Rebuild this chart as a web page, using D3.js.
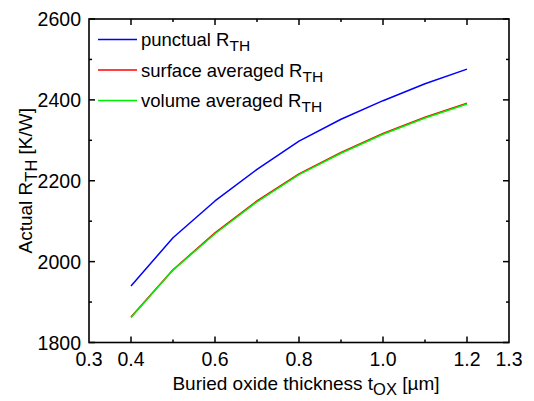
<!DOCTYPE html>
<html>
<head>
<meta charset="utf-8">
<script src="https://cdn.jsdelivr.net/npm/d3@7"></script>
<style>
  body { margin: 0; background: white; }
  text { font-family: "Liberation Sans", Arial, sans-serif; fill: black; }
</style>
</head>
<body>
<svg id="chart" width="534" height="401"></svg>
<script>
// buried oxide thickness (um)
var tox = [0.4, 0.5, 0.6, 0.7, 0.8, 0.9, 1.0, 1.1, 1.2];

// R_TH values (K/W)
var punctual = [1940, 2059, 2150, 2228, 2298, 2352, 2398, 2440, 2476];
var surfaceAvg = [1863, 1980, 2071, 2150, 2217, 2270, 2317, 2357, 2392];
var volumeAvg = [1862, 1979, 2069, 2148, 2215, 2268, 2315, 2355, 2390];

var seriesNames = ["punctual", "surface averaged", "volume averaged"];
var seriesColors = ["#0000ff", "#ff0000", "#00ee00"];

var xTickLabels = [0.3, 0.4, 0.6, 0.8, 1.0, 1.2, 1.3];
var xMajor = [0.4, 0.6, 0.8, 1.0, 1.2];
var xMinor = [0.5, 0.7, 0.9, 1.1];
var yMajor = [1800, 2000, 2200, 2400, 2600];
var yMinor = [1900, 2100, 2300, 2500];

const margin = {left: 89, right: 25, top: 19, bottom: 58.5};
const width = 534;
const height = 401;
const innerW = width - margin.left - margin.right;
const innerH = height - margin.top - margin.bottom;

var svg = d3.select('#chart');

var x = d3.scaleLinear()
  .domain([0.3, 1.3])
  .range([margin.left, margin.left + innerW]);

var y = d3.scaleLinear()
  .domain([1800, 2600])
  .range([margin.top + innerH, margin.top]);

var series = [punctual, surfaceAvg, volumeAvg].map((vals, i) => {
  return {name: seriesNames[i], color: seriesColors[i], points: tox.map((t, j) => ({t: t, v: vals[j]}))};
});

// frame
svg.append('rect')
  .attr('x', margin.left)
  .attr('y', margin.top)
  .attr('width', innerW)
  .attr('height', innerH)
  .attr('fill', 'none')
  .attr('stroke', 'black')
  .attr('stroke-width', 1.6);

// ticks, pointing inward on all four sides
function addTicks(vals, len, horiz) {
  vals.forEach(v => {
    if (horiz) {
      svg.append('line').attr('x1', x(v)).attr('x2', x(v))
        .attr('y1', margin.top + innerH).attr('y2', margin.top + innerH - len)
        .attr('stroke', 'black').attr('stroke-width', 1.5);
      svg.append('line').attr('x1', x(v)).attr('x2', x(v))
        .attr('y1', margin.top).attr('y2', margin.top + len)
        .attr('stroke', 'black').attr('stroke-width', 1.5);
    } else {
      svg.append('line').attr('y1', y(v)).attr('y2', y(v))
        .attr('x1', margin.left).attr('x2', margin.left + len)
        .attr('stroke', 'black').attr('stroke-width', 1.5);
      svg.append('line').attr('y1', y(v)).attr('y2', y(v))
        .attr('x1', margin.left + innerW).attr('x2', margin.left + innerW - len)
        .attr('stroke', 'black').attr('stroke-width', 1.5);
    }
  });
}
addTicks(xMajor, 6, true);
addTicks(xMinor, 3, true);
addTicks(yMajor, 6, false);
addTicks(yMinor, 3, false);

// tick labels
svg.selectAll('.xlabel')
  .data(xTickLabels)
  .enter().append('text')
    .attr('class', 'xlabel')
    .attr('x', d => x(d))
    .attr('y', margin.top + innerH + 23)
    .attr('text-anchor', 'middle')
    .attr('font-size', 19.5)
    .text(d => d3.format('.1f')(d));

svg.selectAll('.ylabel')
  .data(yMajor)
  .enter().append('text')
    .attr('class', 'ylabel')
    .attr('x', margin.left - 8)
    .attr('y', d => y(d) + 7)
    .attr('text-anchor', 'end')
    .attr('font-size', 19.5)
    .text(d => d);

// axis titles
var xt = svg.append('text')
  .attr('x', 306)
  .attr('y', 390)
  .attr('text-anchor', 'middle')
  .attr('font-size', 19);
xt.append('tspan').text('Buried oxide thickness t');
xt.append('tspan').attr('dy', 5).attr('font-size', 16.5).text('OX');
xt.append('tspan').attr('dy', -5).text(' [\u00b5m]');

var yt = svg.append('text')
  .attr('transform', `translate(32, ${y(2200)}) rotate(-90)`)
  .attr('text-anchor', 'middle')
  .attr('font-size', 19);
yt.append('tspan').text('Actual R');
yt.append('tspan').attr('dy', 5).attr('font-size', 16.5).text('TH');
yt.append('tspan').attr('dy', -5).text(' [K/W]');

// lines
var line = d3.line()
  .x(d => x(d.t))
  .y(d => y(d.v));

svg.selectAll('.series')
  .data(series)
  .enter().append('path')
    .attr('class', 'series')
    .attr('fill', 'none')
    .attr('stroke', d => d.color)
    .attr('stroke-width', 1.5)
    .attr('stroke-linejoin', 'round')
    .attr('d', d => line(d.points));

// legend
var legend = svg.selectAll('.legend')
  .data(series)
  .enter().append('g')
    .attr('class', 'legend')
    .attr('transform', (d, i) => `translate(98, ${39.5 + i * 30.5})`);

legend.append('line')
  .attr('x1', 0).attr('x2', 39)
  .attr('stroke', d => d.color)
  .attr('stroke-width', 1.5);

var lt = legend.append('text')
  .attr('x', 43)
  .attr('y', 6.5)
  .attr('font-size', 18.5);
lt.append('tspan').text(d => d.name + ' R');
lt.append('tspan').attr('dy', 5).attr('font-size', 15.5).text('TH');
</script>
</body>
</html>
